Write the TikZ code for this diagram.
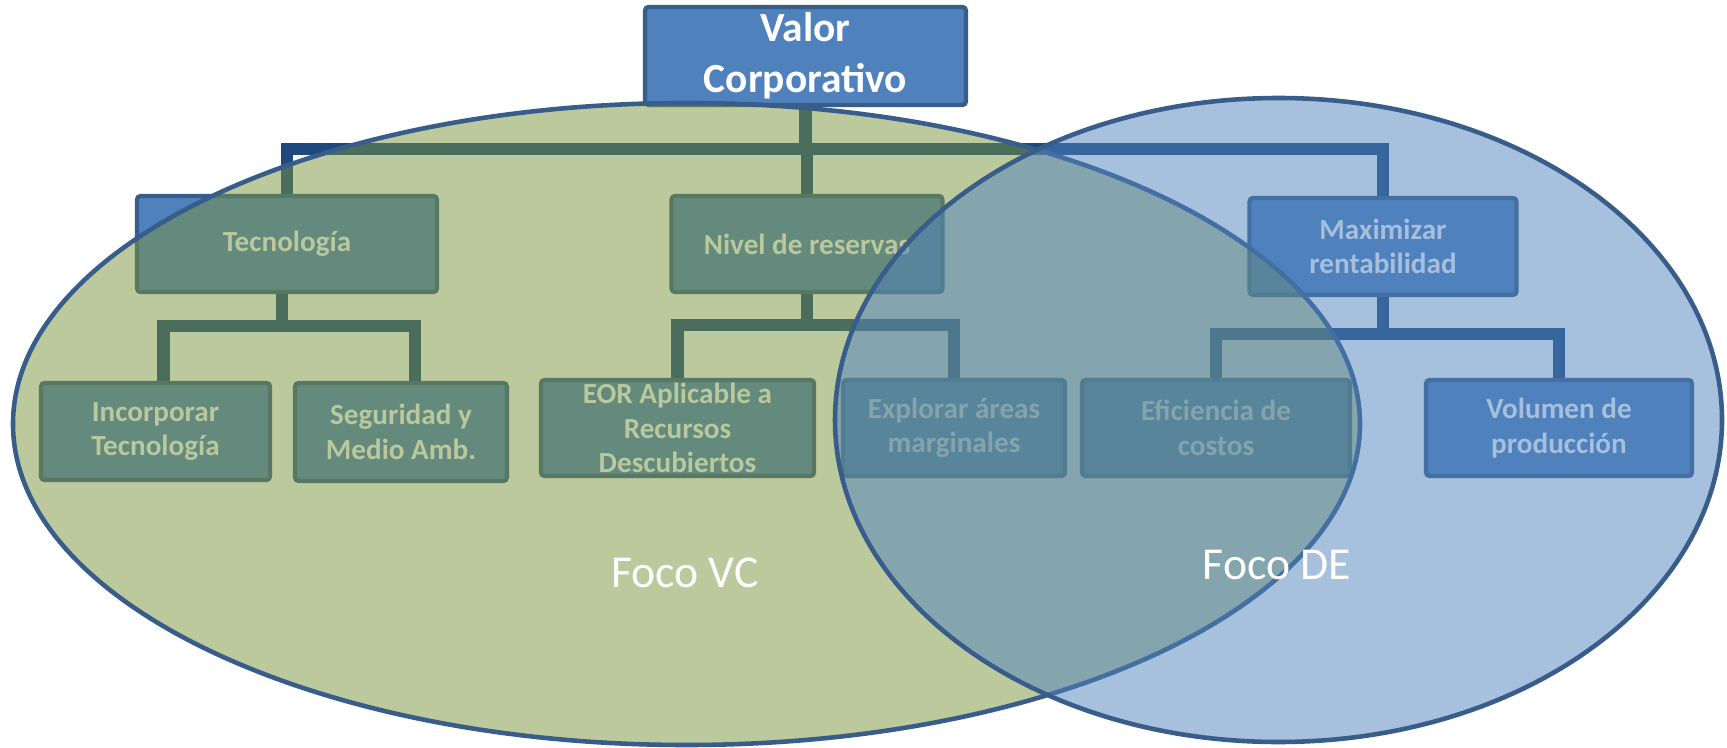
\documentclass[tikz,border=0pt]{standalone}
\usepackage{fontspec}
\setmainfont{Carlito}
\usepackage{tikz}
\usepackage{xcolor}
\definecolor{ofblue}{RGB}{79, 129, 189}
\definecolor{ofborder}{RGB}{56, 93, 138}
\definecolor{ofnavy}{RGB}{31, 73, 125}
\definecolor{ofolive}{RGB}{119, 147, 60}

\begin{document}
\begin{tikzpicture}[
    caja/.style={draw=ofborder, fill=ofblue, line width=1.2pt, rounded corners=1pt, text=white,
        font=\bfseries\fontsize{8.3}{9.8}\selectfont, align=center, inner sep=0pt, minimum height=0.96cm},
    conector/.style={draw=ofnavy, line width=3.5pt},
    foco/.style={draw=ofborder, line width=1.3pt, fill opacity=0.5},
    rotulo/.style={text=white, font=\fontsize{13}{15}\selectfont}]
    \useasboundingbox (0,0) rectangle (17.27,-7.48);

    % organigrama
    \node[caja, minimum width=3.21cm, minimum height=0.98cm, font=\bfseries\fontsize{11.8}{14.5}\selectfont] (valor) at (8.055,-0.56) {Valor\\Corporativo};
    \node[caja, minimum width=3.00cm] (tec) at (2.87,-2.44) {Tecnología};
    \node[caja, minimum width=2.71cm] (niv) at (8.07,-2.44) {Nivel de reservas};
    \node[caja, minimum width=2.67cm, minimum height=0.97cm] (maxr) at (13.83,-2.465) {Maximizar\\rentabilidad};
    \node[caja, minimum width=2.29cm, minimum height=0.97cm] (inc) at (1.555,-4.315) {Incorporar\\Tecnología};
    \node[caja, minimum width=2.12cm, minimum height=0.98cm] (seg) at (4.01,-4.32) {Seguridad y\\Medio Amb.};
    \node[caja, minimum width=2.73cm] (eor) at (6.775,-4.28) {EOR Aplicable a\\Recursos\\Descubiertos};
    \node[caja, minimum width=2.22cm] (expl) at (9.54,-4.28) {Explorar áreas\\marginales};
    \node[caja, minimum width=2.68cm] (efi) at (12.16,-4.28) {Eficiencia de\\costos};
    \node[caja, minimum width=2.66cm] (vol) at (15.59,-4.28) {Volumen de\\producción};

    \coordinate (b0) at (8.055,-1.49);
    \coordinate (b1) at (2.82,-3.26);
    \coordinate (b2) at (8.07,-3.25);
    \coordinate (b3) at (13.83,-3.34);

    \draw[conector] (valor.south) -- (b0);
    \draw[conector] (b0) -| (tec.north);
    \draw[conector] (b0) -| (niv.north);
    \draw[conector] (b0) -| (maxr.north);
    \draw[conector] (tec.south -| b1) -- (b1);
    \draw[conector] (b1) -| ([xshift=0.08cm]inc.north);
    \draw[conector] (b1) -| ([xshift=0.14cm]seg.north);
    \draw[conector] (niv.south) -- (b2);
    \draw[conector] (b2) -| (eor.north);
    \draw[conector] (b2) -| (expl.north);
    \draw[conector] (maxr.south) -- (b3);
    \draw[conector] (b3) -| (efi.north);
    \draw[conector] (b3) -| (vol.north);

    % focos
    \draw[foco, fill=ofolive] (6.865,-4.24) ellipse [x radius=6.735, y radius=3.21];
    \draw[foco, fill=ofblue] (12.785,-4.2) ellipse [x radius=4.435, y radius=3.22];

    \node[rotulo] (vc) at (6.85,-5.73) {Foco VC};
    \node[rotulo] (de) at (12.77,-5.65) {Foco DE};
\end{tikzpicture}
\end{document}
